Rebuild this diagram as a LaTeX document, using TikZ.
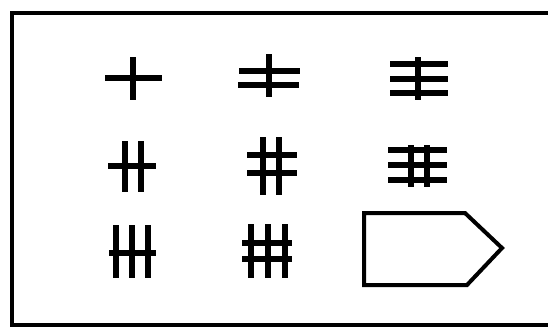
\documentclass[tikz,border=0pt]{standalone}
\begin{document}
\begin{tikzpicture}[x=1pt,y=-1pt,
  stroke/.style={line width=5.2pt,line cap=butt},
  outline/.style={line width=4pt,line join=miter}]
\useasboundingbox (0,0) rectangle (548,327);
\clip (0,0) rectangle (548,327);
% frame
\draw[line width=4.5pt] (560,13) -- (12,13) -- (12,325) -- (560,325);
% 1: plus
\draw[stroke] (105,78) -- (162,78);
\draw[stroke] (133,57) -- (133,100);
% 2
\draw[stroke] (269,54) -- (269,97);
\draw[stroke] (239,71) -- (300,71);
\draw[stroke] (238,85) -- (299,85);
% 3
\draw[stroke] (418,57) -- (418,100);
\foreach \y in {64,79,93} \draw[stroke] (390,\y) -- (448,\y);
% 4
\foreach \x in {125,141} \draw[stroke] (\x,141) -- (\x,192);
\draw[stroke] (108,166) -- (156,166);
% 5
\foreach \x in {263,279} \draw[stroke] (\x,137) -- (\x,195);
\foreach \y in {155,173} \draw[stroke] (247,\y) -- (297,\y);
% 6
\foreach \x in {411,427} \draw[stroke] (\x,145) -- (\x,187);
\foreach \y in {150,165,180} \draw[stroke] (388,\y) -- (447,\y);
% 7
\foreach \x in {116,132,148} \draw[stroke] (\x,225) -- (\x,278);
\draw[stroke] (109,253) -- (156,253);
% 8
\foreach \x in {251,268,285} \draw[stroke] (\x,224) -- (\x,278);
\foreach \y in {243,259} \draw[stroke] (242,\y) -- (292,\y);
% 9: pentagon
\draw[outline] (364,213) -- (465,213) -- (502,248) -- (467,285) -- (364,285) -- cycle;
\end{tikzpicture}
\end{document}
